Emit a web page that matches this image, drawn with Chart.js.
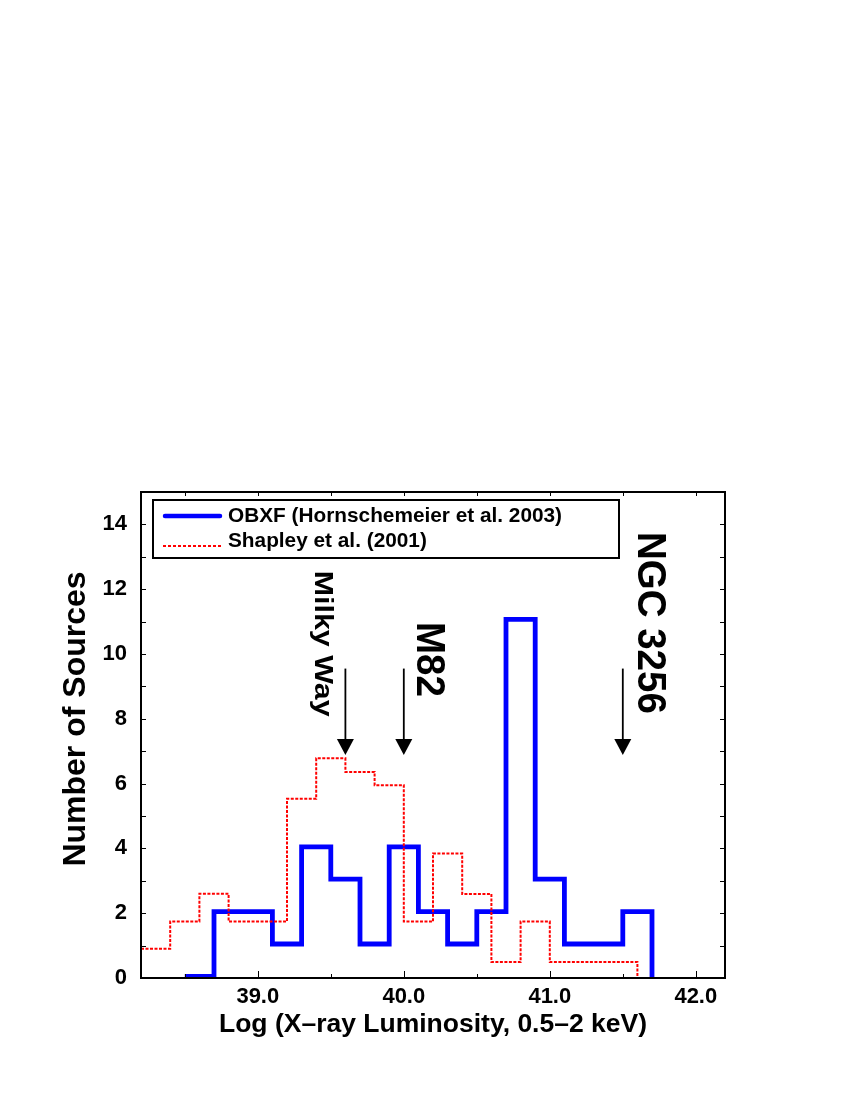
<!DOCTYPE html>
<html>
<head>
<meta charset="utf-8">
<script src="https://cdn.jsdelivr.net/npm/chart.js@4.4.1/dist/chart.umd.min.js"></script>
<style>
  html, body { margin: 0; padding: 0; background: #ffffff; }
  #wrap { width: 850px; height: 1100px; position: relative; }
</style>
</head>
<body>
<div id="wrap"><canvas id="c" width="850" height="1100"></canvas></div>
<script>
// ---------------- DATA ----------------
const obxfLabel = 'OBXF (Hornschemeier et al. 2003)';
const obxfEdges  = [38.5, 38.7, 38.9, 39.1, 39.3, 39.5, 39.7, 39.9, 40.1, 40.3, 40.5, 40.7, 40.9, 41.1, 41.3, 41.5, 41.7];
const obxfCounts = [0.05, 2.05, 2.05, 1.05, 4.05, 3.05, 1.05, 4.05, 2.05, 1.05, 2.05, 11.07, 3.05, 1.05, 1.05, 2.05, 0];

const shapleyLabel = 'Shapley et al. (2001)';
const shapleyEdges  = [38.2, 38.4, 38.6, 38.8, 39.0, 39.2, 39.4, 39.6, 39.8, 40.0, 40.2, 40.4, 40.6, 40.8, 41.0, 41.2, 41.4, 41.6];
const shapleyCounts = [0.9, 1.74, 2.6, 1.74, 1.74, 5.53, 6.78, 6.36, 5.95, 1.74, 3.84, 2.59, 0.49, 1.74, 0.49, 0.49, 0.49, 0];

const xTickValues = [39, 40, 41, 42];
const xTickLabels = ['39.0', '40.0', '41.0', '42.0'];
const xMinorTicks = [38.5, 39.0, 39.5, 40.0, 40.5, 41.0, 41.5, 42.0];
const yTickValues = [0, 2, 4, 6, 8, 10, 12, 14];
const yTickLabels = ['0', '2', '4', '6', '8', '10', '12', '14'];
const yMinorTicks = [1, 2, 3, 4, 5, 6, 7, 8, 9, 10, 11, 12, 13, 14];

const xTitle = 'Log (X\u2013ray Luminosity, 0.5\u20132 keV)';
const yTitle = 'Number of Sources';

const markerNames = ['Milky Way', 'M82', 'NGC 3256'];
const markerX     = [39.6, 40.0, 41.5];
const arrowFromY  = 9.55;
const arrowToY    = 6.88;
const markerLabelY = [10.32, 9.83, 10.96];

// ---------------- STYLE ----------------
const FONT = '"Liberation Sans", Arial, Helvetica, sans-serif';
const markerStyle = [
  { dx: -30,  size: 25,   length: 146 },
  { dx: 13.5, size: 40,   length: 75 },
  { dx: 15,   size: 41,   length: 182 }
];
const yTitleStyle = { x: 76, y: 719, size: 32 };

const decor = {
  id: 'decor',
  afterDatasetsDraw(chart) {
    const { ctx, chartArea: a, scales: { x, y } } = chart;
    ctx.save();
    // tick marks (inward)
    ctx.strokeStyle = '#000';
    ctx.lineWidth = 1;
    ctx.beginPath();
    xMinorTicks.forEach(v => {
      const px = Math.round(x.getPixelForValue(v)) + 0.5;
      const major = Number.isInteger(v);
      ctx.moveTo(px, a.bottom); ctx.lineTo(px, a.bottom - (major ? 7 : 4));
      ctx.moveTo(px, a.top); ctx.lineTo(px, a.top + 4);
    });
    yMinorTicks.forEach(v => {
      const py = Math.round(y.getPixelForValue(v)) + 0.5;
      ctx.moveTo(a.left, py); ctx.lineTo(a.left + 5, py);
      ctx.moveTo(a.right, py); ctx.lineTo(a.right - 5, py);
    });
    ctx.stroke();
    // frame
    ctx.lineWidth = 2;
    ctx.strokeRect(a.left, a.top, a.right - a.left, a.bottom - a.top);

    // y-axis title
    ctx.save();
    ctx.fillStyle = '#000';
    ctx.font = 'bold ' + yTitleStyle.size + 'px ' + FONT;
    ctx.translate(yTitleStyle.x, yTitleStyle.y);
    ctx.rotate(-Math.PI / 2);
    ctx.textAlign = 'center';
    ctx.textBaseline = 'middle';
    ctx.fillText(yTitle, 0, 0);
    ctx.restore();

    // legend box
    const lx = a.left + 12, ly = a.top + 8, lw = 466, lh = 58;
    ctx.fillStyle = '#fff';
    ctx.fillRect(lx, ly, lw, lh);
    ctx.strokeStyle = '#000';
    ctx.lineWidth = 2;
    ctx.strokeRect(lx, ly, lw, lh);
    // blue sample
    ctx.beginPath();
    ctx.strokeStyle = '#0000ff';
    ctx.lineWidth = 4.5;
    ctx.lineCap = 'round';
    ctx.moveTo(a.left + 24, a.top + 24);
    ctx.lineTo(a.left + 79, a.top + 24);
    ctx.stroke();
    // red sample
    ctx.beginPath();
    ctx.strokeStyle = '#ff0000';
    ctx.lineWidth = 2;
    ctx.lineCap = 'butt';
    ctx.setLineDash([3, 2]);
    ctx.moveTo(a.left + 22, a.top + 54);
    ctx.lineTo(a.left + 81, a.top + 54);
    ctx.stroke();
    ctx.setLineDash([]);
    ctx.fillStyle = '#000';
    ctx.font = 'bold 20.8px ' + FONT;
    ctx.textAlign = 'left';
    ctx.textBaseline = 'alphabetic';
    ctx.fillText(obxfLabel, a.left + 87, a.top + 30);
    ctx.fillText(shapleyLabel, a.left + 87, a.top + 55);

    // arrows + labels
    markerX.forEach((mx, i) => {
      const px = x.getPixelForValue(mx);
      const pTop = y.getPixelForValue(arrowFromY);
      const pTip = y.getPixelForValue(arrowToY);
      const headL = 16, headW = 8.5;
      ctx.beginPath();
      ctx.strokeStyle = '#000';
      ctx.lineWidth = 1.8;
      ctx.moveTo(px, pTop);
      ctx.lineTo(px, pTip - headL + 1);
      ctx.stroke();
      ctx.beginPath();
      ctx.fillStyle = '#000';
      ctx.moveTo(px, pTip);
      ctx.lineTo(px - headW, pTip - headL);
      ctx.lineTo(px + headW, pTip - headL);
      ctx.closePath();
      ctx.fill();

      const st = markerStyle[i];
      ctx.save();
      ctx.font = 'bold ' + st.size + 'px ' + FONT;
      const w = ctx.measureText(markerNames[i]).width;
      ctx.translate(px + st.dx, y.getPixelForValue(markerLabelY[i]));
      ctx.rotate(Math.PI / 2);
      ctx.scale(st.length / w, 1);
      ctx.textAlign = 'center';
      ctx.textBaseline = 'alphabetic';
      ctx.fillText(markerNames[i], 0, 0);
      ctx.restore();
    });
    ctx.restore();
  }
};

new Chart(document.getElementById('c'), {
  type: 'line',
  data: {
    datasets: [
      {
        label: obxfLabel,
        data: obxfEdges.map((e, i) => ({ x: e, y: obxfCounts[i] })),
        stepped: true,
        borderColor: '#0000ff',
        borderWidth: 4.8,
        borderJoinStyle: 'miter',
        borderCapStyle: 'butt',
        pointRadius: 0,
        fill: false,
        order: 2
      },
      {
        label: shapleyLabel,
        data: shapleyEdges.map((e, i) => ({ x: e, y: shapleyCounts[i] })),
        stepped: true,
        borderColor: '#ff0000',
        borderWidth: 2,
        borderDash: [3, 1.5],
        borderJoinStyle: 'miter',
        borderCapStyle: 'butt',
        pointRadius: 0,
        fill: false,
        order: 1
      }
    ]
  },
  options: {
    responsive: false,
    devicePixelRatio: 1,
    animation: false,
    layout: { padding: { top: 492, right: 125, bottom: 0, left: 0 } },
    plugins: { legend: { display: false }, tooltip: { enabled: false } },
    scales: {
      x: {
        type: 'linear',
        position: 'bottom',
        min: 38.2,
        max: 42.2,
        grid: { display: false, drawTicks: false },
        border: { display: false },
        afterBuildTicks: s => { s.ticks = xTickValues.map(v => ({ value: v })); },
        afterFit: s => { s.height = 122; s.paddingLeft = 0; s.paddingRight = 0; },
        ticks: {
          autoSkip: false,
          maxRotation: 0,
          padding: 6,
          color: '#000',
          font: { family: FONT, size: 22, weight: 'bold' },
          callback: v => xTickLabels[xTickValues.indexOf(v)]
        },
        title: {
          display: true,
          text: xTitle,
          color: '#000',
          font: { family: FONT, size: 26.5, weight: 'bold' },
          padding: { top: 0, bottom: 59 }
        }
      },
      y: {
        type: 'linear',
        position: 'left',
        min: 0,
        max: 15,
        grid: { display: false, drawTicks: false },
        border: { display: false },
        afterBuildTicks: s => { s.ticks = yTickValues.map(v => ({ value: v })); },
        afterFit: s => { s.width = 141; s.paddingTop = 0; s.paddingBottom = 0; },
        ticks: {
          autoSkip: false,
          padding: 14,
          color: '#000',
          font: { family: FONT, size: 22, weight: 'bold' },
          callback: v => yTickLabels[yTickValues.indexOf(v)]
        },
        title: { display: false, text: yTitle }
      }
    }
  },
  plugins: [decor]
});
</script>
</body>
</html>
